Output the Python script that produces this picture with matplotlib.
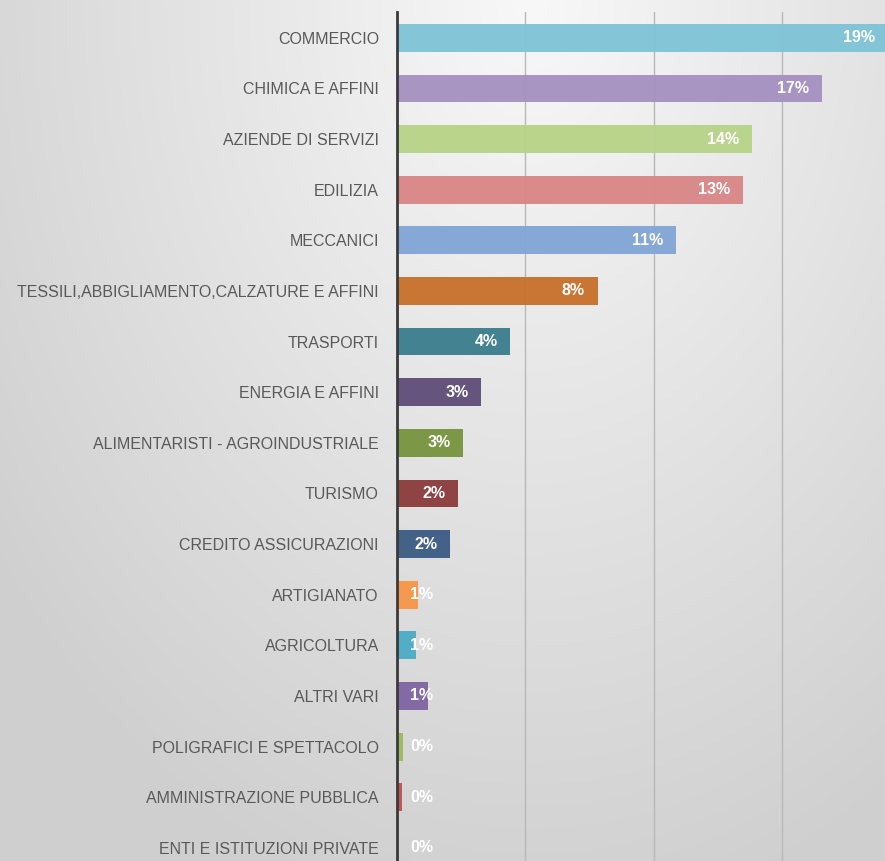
import matplotlib
matplotlib.use("Agg")

import numpy as np
import matplotlib.pyplot as plt
from matplotlib.colors import LinearSegmentedColormap


# ---------------- Data ----------------
sectors = [
    "COMMERCIO", "CHIMICA E AFFINI", "AZIENDE DI SERVIZI", "EDILIZIA",
    "MECCANICI", "TESSILI,ABBIGLIAMENTO,CALZATURE E AFFINI", "TRASPORTI",
    "ENERGIA E AFFINI", "ALIMENTARISTI - AGROINDUSTRIALE", "TURISMO",
    "CREDITO ASSICURAZIONI", "ARTIGIANATO", "AGRICOLTURA", "ALTRI VARI",
    "POLIGRAFICI E SPETTACOLO", "AMMINISTRAZIONE PUBBLICA",
    "ENTI E ISTITUZIONI PRIVATE",
]
shares = [19.1, 16.55, 13.8, 13.45, 10.86, 7.81, 4.41, 3.28, 2.58, 2.38,
          2.07, 0.82, 0.74, 1.21, 0.23, 0.2, 0.02]
bar_colors = [
    "#7ec4d6", "#a590c0", "#b7d387", "#d98585", "#80a5d6", "#c8702a",
    "#3a7d8c", "#5e4c78", "#77933c", "#8b3a3a", "#3c5a84", "#f79646",
    "#4bacc6", "#8064a2", "#9bbb59", "#c0504d", "#4f81bd",
]

label_font = ["Liberation Sans", "DejaVu Sans"]

fig = plt.figure(figsize=(8.85, 8.61), dpi=100)

# ---------------- Gradient background ----------------
bg = fig.add_axes([0, 0, 1, 1], zorder=0)
xx, yy = np.meshgrid(np.linspace(0, 1, 400), np.linspace(0, 1, 400))
dist = np.sqrt(((xx - 0.6) / 0.7) ** 2 + ((yy - 1.0) / 1.0) ** 2)
grad_cmap = LinearSegmentedColormap.from_list("bg", ["#f8f8f8", "#cfcfcf"])
bg.imshow(np.clip(dist / 1.1, 0, 1), cmap=grad_cmap, origin="lower",
          extent=[0, 1, 0, 1], aspect="auto", vmin=0, vmax=1)
bg.axis("off")

# ---------------- Bars ----------------
ax = fig.add_axes([397 / 885, 0, 1 - 397 / 885, 1 - 12 / 861], zorder=1)
ax.patch.set_alpha(0)

y = np.arange(len(sectors))
ax.barh(y, shares, height=0.55, color=bar_colors, alpha=0.95, zorder=2)

ax.set_xlim(0, 18.99)
ax.set_ylim(16.26, -0.51)
ax.set_xticks([5, 10, 15])
ax.xaxis.grid(True, color="#b8b8b8", linewidth=1)
ax.set_axisbelow(True)
ax.tick_params(axis="x", length=0, labelbottom=False)
ax.tick_params(axis="y", length=0, pad=13)
ax.set_yticks(y)
ax.set_yticklabels(sectors, fontsize=11.5, color="#595959", family=label_font)

for side in ["top", "right", "bottom"]:
    ax.spines[side].set_visible(False)
ax.spines["left"].set_color("#3a3a3a")
ax.spines["left"].set_linewidth(2)
ax.spines["left"].set_zorder(3)

for yi, v in zip(y, shares):
    ax.text(max(v - 0.5, 1.42), yi, f"{v:.0f}%", ha="right", va="center",
            fontsize=11.5, fontweight="bold", color="white",
            family=label_font, zorder=4)

fig.savefig("out.png", dpi=100)
plt.close()
